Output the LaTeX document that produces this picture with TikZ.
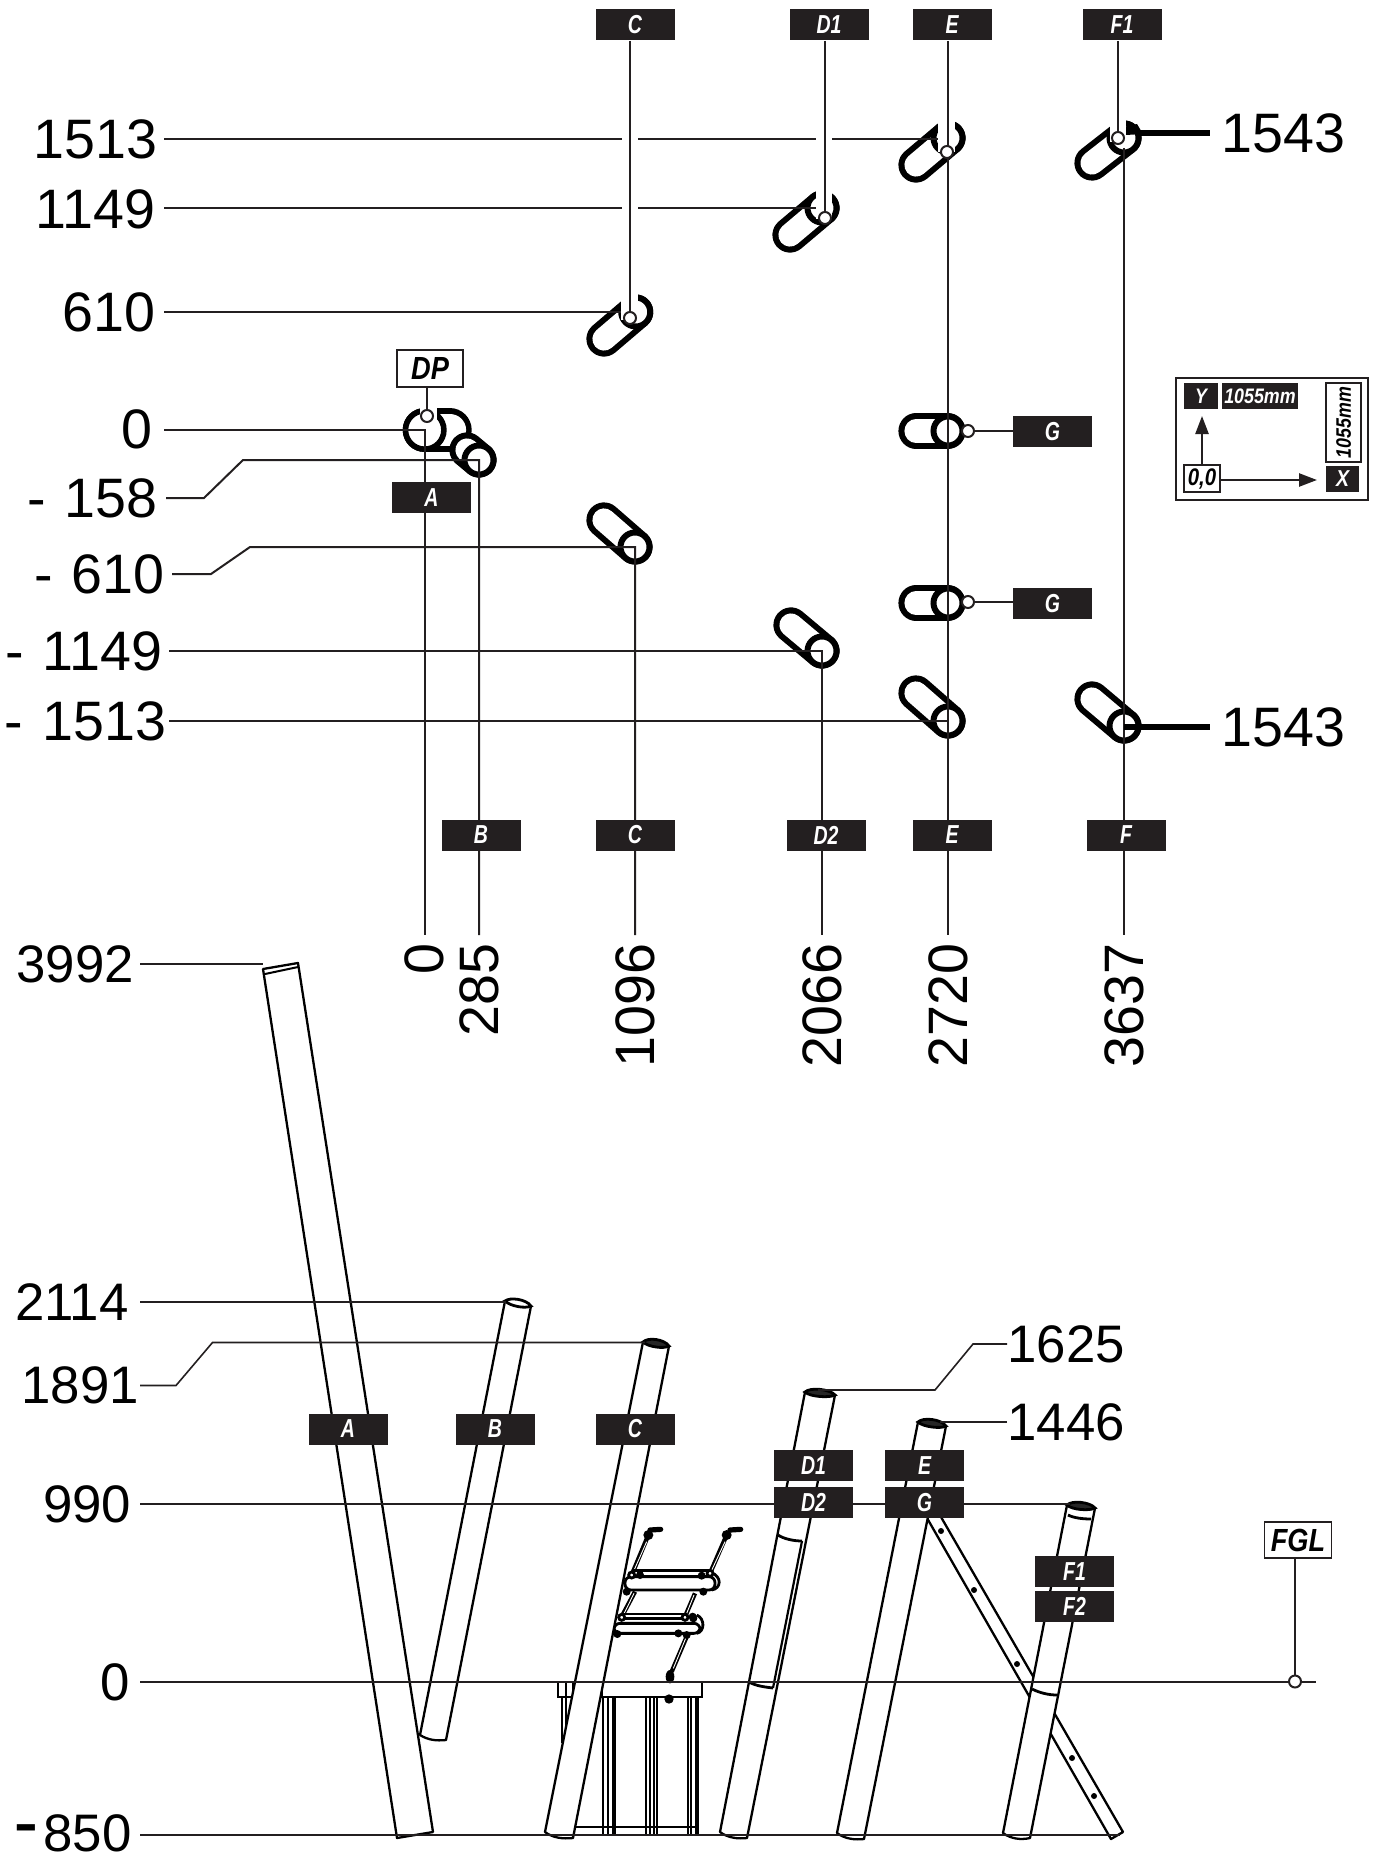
\documentclass[tikz,border=0pt]{standalone}
\usepackage{graphicx}
\usepackage{fontspec}
\setmainfont{Liberation Sans}
\usetikzlibrary{arrows.meta}
\definecolor{tagk}{HTML}{231F20}
\newcommand\cond[1]{\scalebox{.75}[1]{#1}}
\newcommand\condw[1]{\scalebox{.85}[1]{#1}}
\newcommand\slotshape[4]{%
  \draw[line width=17.6pt,line cap=round,black] (#1,#2)--(#3,#4);
  \draw[line width=11.6pt,line cap=round,white] (#1,#2)--(#3,#4);
  \draw[line width=3pt,black,fill=white] (#1,#2) circle (14.5);}
\newcommand\halo[4]{\fill[white] (#1,#2) rectangle (#3,#4);}
\tikzset{
  tagbox/.style={fill=tagk,text=white,minimum width=39.5pt,minimum height=15.5pt,inner sep=0pt,
    font=\bfseries\itshape\fontsize{13}{13}\selectfont},
  wbox/.style={draw=tagk,line width=.9pt,fill=white,inner sep=0pt,text=black,
    font=\bfseries\itshape\fontsize{16}{16}\selectfont},
  num/.style={inner sep=0pt,text=black,font=\fontsize{27.8}{28}\selectfont},
  numb/.style={inner sep=0pt,text=black,font=\fontsize{26.4}{27}\selectfont},
  lead/.style={draw=tagk,line width=1pt},
  leadb/.style={draw=tagk,line width=.8pt},
  heavy/.style={draw=black,line width=2.6pt},
  dot/.style={draw=tagk,line width=1pt,fill=white},
  tube/.style={draw=black,line width=1.15pt,fill=white,line join=round},
  thin frame/.style={draw=black,line width=1.05pt},
  capdark/.style={draw=black,line width=1.4pt,fill=black!85},
  capopen/.style={draw=black,line width=1.4pt,fill=white},
  endarc/.style={draw=black,line width=1.4pt},
  strut/.style={draw=black,line width=2.2pt},
  strutin/.style={draw=white,line width=.45pt},
}
\begin{document}
\begin{tikzpicture}[x=.5pt,y=-.5pt]
\useasboundingbox (0,0) rectangle (1378,1856);
% ---- slots
\coordinate (c0) at (424.5,430);
\draw[line width=22pt,line cap=round,black] (424.7,430)--(449.7,430);
\draw[line width=16.4pt,line cap=round,white] (424.7,430)--(449.7,430);
\draw[line width=2.8pt,black,fill=white] (424.7,430) circle (19.2);
\halo{420}{400}{437}{420}
\slotshape{479}{460}{467}{450}
\slotshape{635.7}{312}{604}{339}
\slotshape{822}{208}{790}{235}
\slotshape{948}{138}{916}{165}
\slotshape{1124}{138}{1092}{163}
\slotshape{635}{547}{604}{520}
\slotshape{822}{651}{791}{625}
\slotshape{948}{721}{916}{693}
\slotshape{1124}{726}{1092}{699}
\slotshape{948}{431}{916}{431}
\slotshape{948}{603}{916}{603}
\halo{621}{290}{638}{320}
\halo{816}{188}{832}{219}
\halo{938}{115}{955}{152}
\halo{1110}{112}{1126}{142}
\fill[black] (1126,127) -- (1137,124) -- (1143,134) -- (1126,135) -- cycle;
% ---- named ends of the upper leaders
\coordinate (vA0) at (424.5,430); \coordinate (vAe) at (424.5,935);
\coordinate (vB0) at (479,460); \coordinate (vBe) at (479,935);
\coordinate (vC0) at (635,547); \coordinate (vCe) at (635,935);
\coordinate (vD0) at (822,651); \coordinate (vDe) at (822,935);
\coordinate (vE0) at (948,41); \coordinate (vEd) at (947,152); \coordinate (vEe) at (948,935);
\coordinate (vF0) at (1124,148); \coordinate (vFe) at (1124,935);
\coordinate (dC) at (630,318); \coordinate (dD) at (825,218); \coordinate (dF) at (1118,138);
\coordinate (dDP) at (427,416); \coordinate (dG1) at (968,431); \coordinate (dG2) at (968,602);
% ---- left labels
\node[num,anchor=east] (y1) at (157.5,139) {1513};
\node[num,anchor=east] (y2) at (155.5,209) {1149};
\node[num,anchor=east] (y3) at (156,312) {610};
\node[num,anchor=east] (y4) at (153,429) {0};
\node[num,anchor=east] (y5) at (158,498) {-\kern1.5pt{} 158};
\node[num,anchor=east] (y6) at (165,574) {-\kern1.5pt{} 610};
\node[num,anchor=east] (y7) at (163,651) {-\kern2pt{} 1149};
\node[num,anchor=east] (y8) at (167,721) {-\kern2pt{} 1513};
\node[num,anchor=west] (r1) at (1221,133) {1543};
\node[num,anchor=west] (r2) at (1221,727) {1543};
% ---- horizontal leaders
\coordinate (a1) at (164,139); \coordinate (a1b) at (622,139); \coordinate (a1c) at (638,139);
\coordinate (a1d) at (816,139); \coordinate (a1e) at (832,139); \coordinate (a1f) at (938,139);
\draw[lead] (a1) -- (a1b) (a1c) -- (a1d) (a1e) -- (a1f);
\coordinate (a2) at (164,208.5); \coordinate (a2b) at (622,208.5); \coordinate (a2c) at (638,208.5); \coordinate (a2d) at (816,208.5);
\draw[lead] (a2) -- (a2b) (a2c) -- (a2d);
\coordinate (a3) at (164,312); \coordinate (a3b) at (621,312);
\draw[lead] (a3) -- (a3b);
\coordinate (a4) at (164,430);
\draw[lead] (a4) -- (vA0) -- (vAe);
\coordinate (a5) at (166,498); \coordinate (a5b) at (204,498); \coordinate (a5c) at (243,460);
\draw[lead] (a5) -- (a5b) -- (a5c) -- (vB0) -- (vBe);
\coordinate (a6) at (172,574); \coordinate (a6b) at (211,574); \coordinate (a6c) at (250,547);
\draw[lead] (a6) -- (a6b) -- (a6c) -- (vC0) -- (vCe);
\coordinate (a7) at (169,651);
\draw[lead] (a7) -- (vD0) -- (vDe);
\coordinate (a8) at (169,721); \coordinate (a8b) at (948,721);
\draw[lead] (a8) -- (a8b);
% ---- verticals
\node[tagbox] (tC) at (635,25) {\cond{C}};
\node[tagbox] (tD1) at (829,25) {\cond{D1}};
\node[tagbox] (tE) at (952,25) {\cond{E}};
\node[tagbox] (tF1) at (1122,25) {\cond{F1}};
\coordinate (tCs) at (630,41); \coordinate (tDs) at (825,41); \coordinate (tFs) at (1118,41);
\draw[lead] (tCs) -- (dC);
\draw[lead] (tDs) -- (dD);
\draw[lead] (vE0) -- (vEe);
\draw[lead] (tFs) -- (dF);
\draw[lead] (vF0) -- (vFe);
\coordinate (h1) at (1137,133); \coordinate (h1e) at (1210,133);
\coordinate (h2) at (1124,727); \coordinate (h2e) at (1210,727);
\draw[heavy] (h2) -- (h2e);
\draw[heavy] (h1) -- (h1e);
% ---- dots, DP, G
\node[wbox,minimum width=33pt,minimum height=18.5pt] (DP) at (430,368.5) {\condw{DP}};
\draw[lead] (DP.south -| dDP) -- (dDP);
\node[tagbox] (tG1) at (1052.5,431.5) {\cond{G}};
\node[tagbox] (tG2) at (1052.5,603.5) {\cond{G}};
\draw[lead] (dG1) -- (tG1.west |- dG1);
\draw[lead] (dG2) -- (tG2.west |- dG2);
\foreach \d in {dC,dD,vEd,dF,dDP,dG1,dG2} \draw[dot] (\d) circle (6);
% ---- lower tags of the plan
\node[tagbox] (tA) at (431.5,497.5) {\cond{A}};
\node[tagbox] (tB) at (481,835) {\cond{B}};
\node[tagbox] (tC2) at (635,835) {\cond{C}};
\node[tagbox] (tD2) at (826,835) {\cond{D2}};
\node[tagbox] (tE2) at (952,835) {\cond{E}};
\node[tagbox] (tF) at (1126,835) {\cond{F}};
% ---- rotated numbers
\node[num,rotate=90,anchor=east] (x0) at (424,943) {0};
\node[num,rotate=90,anchor=east] (x1) at (479,943) {285};
\node[num,rotate=90,anchor=east] (x2) at (635,943) {1096};
\node[num,rotate=90,anchor=east] (x3) at (822,943) {2066};
\node[num,rotate=90,anchor=east] (x4) at (948,943) {2720};
\node[num,rotate=90,anchor=east] (x5) at (1124,943) {3637};
% ---- key
\draw[draw=tagk,line width=.9pt] (1176,378) rectangle (1368,500);
\node[tagbox,minimum width=17pt,minimum height=13pt,font=\bfseries\itshape\fontsize{10.5}{10.5}\selectfont] (kY) at (1201,396) {\condw{Y}};
\node[tagbox,minimum width=38pt,minimum height=13pt,font=\bfseries\itshape\fontsize{10.5}{10.5}\selectfont] (kW) at (1260,396) {\condw{1055mm}};
\node[wbox,minimum width=17.5pt,minimum height=39.5pt,font=\bfseries\itshape\fontsize{10.5}{10.5}\selectfont] (kH) at (1343.5,422.5) {\rotatebox{90}{\condw{1055mm}}};
\node[tagbox,minimum width=16.5pt,minimum height=13pt,font=\bfseries\itshape\fontsize{11.5}{11.5}\selectfont] (kX) at (1342.5,479) {\condw{X}};
\node[wbox,minimum width=18pt,minimum height=13.5pt,font=\bfseries\itshape\fontsize{12}{12}\selectfont] (kO) at (1202,478.5) {\condw{0,0}};
\coordinate (kYt) at (1202,416); \coordinate (kXt) at (1317,480);
\draw[line width=1.2pt,tagk,-{Triangle[length=9pt,width=6.5pt]}] (kO.north) -- (kYt);
\draw[line width=1.2pt,tagk,-{Triangle[length=9pt,width=6.5pt]}] (kO.east |- kXt) -- (kXt);
% ---- lower drawing: brace
\draw[tube] (927,1518) -- (1111,1839) -- (1123,1832) -- (941,1517);
\foreach \p in {(941,1531),(974,1590),(1017,1664),(1072,1758),(1094,1796)} \fill[black] \p circle (3);
% ---- frame
\begin{scope}[shift={(540,1480)},x=.16667pt,y=-.16667pt]
\draw[thin frame] (65,652) -- (65,790) (78,652) -- (78,790);
\foreach \zx in {190,205,218,226,318,330,343,350,443,452,467,475} \draw[thin frame] (\zx,652) -- (\zx,1068);
\draw[thin frame] (100,1042) -- (475,1042) (100,1065) -- (475,1065);
\draw[thin frame,fill=white] (55,605) rectangle (100,652);
\draw[thin frame] (78,605) -- (78,652);
\draw[thin frame,fill=white] (185,605) rectangle (485,652);
% struts
\foreach \a/\b in {325/165,560/165} {\fill[black] (\a,\b) circle (15);}
\draw[strut] (325,165) -- (275,285) (285,335) -- (245,410);
\draw[strut] (560,165) -- (510,280) (465,340) -- (435,410) (440,470) -- (395,575);
\draw[strutin] (320,185) -- (278,280) (282,340) -- (250,405);
\draw[strutin] (555,185) -- (513,275) (462,345) -- (438,405) (437,475) -- (400,565);
\draw[line width=2.6pt,line cap=round,black] (330,150) -- (362,148) (570,150) -- (602,148);
\draw[line width=1.4pt,black,fill=white,rounded corners=3pt] (255,290) rectangle (525,330);
\draw[line width=1.3pt] (275,272) -- (510,272) (275,288) -- (510,288);
\draw[line width=1.4pt,black,fill=white,rounded corners=3pt] (222,430) rectangle (480,460);
\draw[line width=1.3pt] (245,402) -- (440,402) (245,416) -- (440,416);
\draw[line width=1.4pt] (515,278) .. controls (545,290) and (545,325) .. (515,330);
\draw[line width=1.4pt] (470,405) .. controls (495,415) and (495,455) .. (470,460);
\foreach \a/\b in {300/285,485/287,260/335,490/335,232/462,460/415,415/460,440/465,458/410}
  \fill[black] (\a,\b) circle (12);
\foreach \a/\b in {275/285,510/280,245/412,435/412}
  \draw[line width=1.4pt,fill=white] (\a,\b) circle (9);
\fill[black] (390,590) ellipse (13 and 20);
\fill[black] (387,657) circle (14);
\end{scope}
% ---- tubes
\draw[tube,fill=none] (505,1301) -- (420,1735) .. controls (428,1740) and (436,1741) .. (446,1740) -- (531,1306);
\draw[capopen] (505,1301) .. controls (510,1297) and (526,1299) .. (531,1306) .. controls (525,1309) and (510,1306) .. (505,1301) -- cycle;
\draw[tube] (263,969) -- (397,1838) -- (433,1832) -- (298,963) -- cycle;
\draw[line width=1pt,black] (265,974) -- (298,967);
\draw[tube] (643,1342) -- (545,1832) .. controls (553,1838) and (563,1839) .. (573,1838) -- (669,1346) -- cycle;
\draw[capdark] (643,1342) .. controls (648,1337) and (664,1339) .. (669,1346) .. controls (664,1349) and (648,1347) .. (643,1342) -- cycle;
\draw[tube] (805,1392) -- (720,1832) .. controls (728,1838) and (738,1839) .. (747,1838) -- (835,1395) -- cycle;
\draw[capdark] (805,1392) .. controls (810,1387) and (830,1389) .. (835,1395) .. controls (830,1398) and (810,1397) .. (805,1392) -- cycle;
\draw[line width=1.1pt,black] (802,1541) -- (773,1688);
\draw[endarc] (778,1535) .. controls (784,1539) and (794,1541) .. (802,1541);
\draw[endarc] (749,1682) .. controls (756,1686) and (765,1687) .. (773,1688);
\draw[tube] (918,1422) -- (837,1833) .. controls (845,1839) and (855,1840) .. (864,1839) -- (946,1426) -- cycle;
\draw[capdark] (918,1422) .. controls (923,1417) and (941,1419) .. (946,1426) .. controls (941,1429) and (923,1427) .. (918,1422) -- cycle;
\draw[tube] (1067,1505) -- (1003,1833) .. controls (1011,1839) and (1021,1840) .. (1030,1838) -- (1095,1508) -- cycle;
\draw[capdark] (1067,1505) .. controls (1072,1500) and (1090,1502) .. (1095,1508) .. controls (1090,1511) and (1072,1510) .. (1067,1505) -- cycle;
\draw[endarc] (1068,1515) .. controls (1074,1518) and (1083,1519) .. (1091,1519);
\draw[endarc] (1032,1689) .. controls (1040,1693) and (1049,1695) .. (1057,1695);
% ---- lower labels
\node[numb,anchor=east] (z1) at (134.5,964) {3992};
\node[numb,anchor=east] (z2) at (129,1302) {2114};
\node[numb,anchor=east] (z3) at (139.5,1385) {1891};
\node[numb,anchor=east] (z4) at (131.5,1504) {990};
\node[numb,anchor=east] (z5) at (130,1682) {0};
\node[numb,anchor=east] (z6) at (132,1833) {\raisebox{5pt}{\bfseries\scalebox{1.35}[1]{-}}\kern2.5pt 850};
\node[numb,anchor=west] (z7) at (1007,1344) {1625};
\node[numb,anchor=west] (z8) at (1007,1422) {1446};
% ---- lower leaders
\coordinate (b1) at (140,964); \coordinate (b1e) at (263,964);
\draw[leadb] (b1) -- (b1e);
\coordinate (b2) at (140,1302); \coordinate (b2e) at (506,1302);
\draw[leadb] (b2) -- (b2e);
\coordinate (b3) at (140,1385.5); \coordinate (b3b) at (176,1385.5); \coordinate (b3c) at (212.5,1342.5); \coordinate (b3e) at (645,1342.5);
\draw[leadb] (b3) -- (b3b) -- (b3c) -- (b3e);
\coordinate (b4) at (140,1504); \coordinate (b4e) at (1070,1504);
\draw[leadb] (b4) -- (b4e);
\coordinate (b5) at (140,1682); \coordinate (b5e) at (1316,1682);
\draw[leadb] (b5) -- (b5e);
\coordinate (b6) at (140,1835); \coordinate (b6e) at (1120,1835);
\draw[leadb] (b6) -- (b6e);
\coordinate (b7b) at (973,1344); \coordinate (b7c) at (935,1390); \coordinate (b7e) at (818,1390);
\draw[leadb] (z7.west) -- (b7b) -- (b7c) -- (b7e);
\coordinate (b8e) at (940,1422);
\draw[leadb] (z8.west) -- (b8e);
% ---- FGL
\node[wbox,minimum width=33.5pt,minimum height=18pt] (FGL) at (1298,1540) {\condw{FGL}};
\coordinate (dFGL) at (1295,1681.5);
\draw[leadb] (FGL.south -| dFGL) -- (dFGL);
\draw[dot] (dFGL) circle (6);
% ---- lower tags
\node[tagbox] (bA) at (348,1429) {\cond{A}};
\node[tagbox] (bB) at (495,1429) {\cond{B}};
\node[tagbox] (bC) at (635,1429) {\cond{C}};
\node[tagbox] (bD1) at (813.5,1465.5) {\cond{D1}};
\node[tagbox] (bD2) at (813.5,1502.5) {\cond{D2}};
\node[tagbox] (bE) at (924.5,1465.5) {\cond{E}};
\node[tagbox] (bG) at (924.5,1502.5) {\cond{G}};
\node[tagbox] (bF1) at (1074.5,1571.5) {\cond{F1}};
\node[tagbox] (bF2) at (1074.5,1606.5) {\cond{F2}};
\end{tikzpicture}
\end{document}
